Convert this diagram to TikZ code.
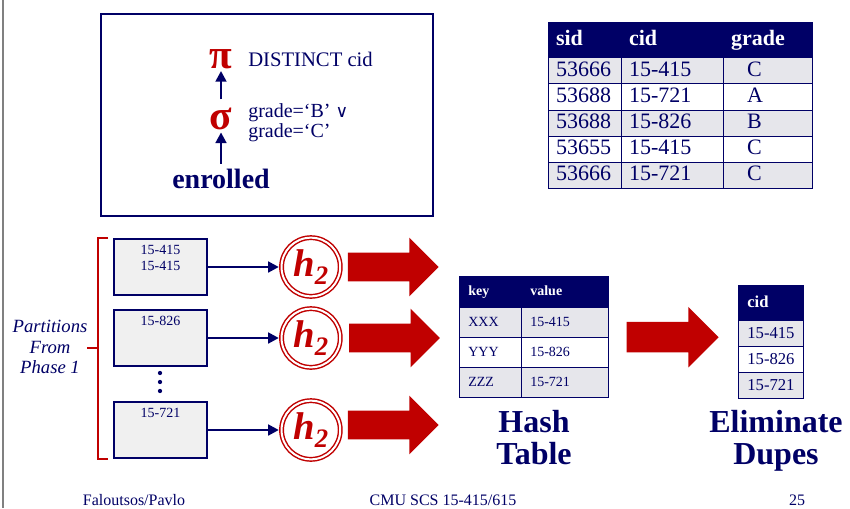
\documentclass[tikz,border=0pt]{standalone}
\usepackage{fontspec}
\setmainfont{Liberation Serif}
\newfontfamily\orfont{DejaVu Sans}
\usetikzlibrary{arrows.meta,positioning,matrix,shapes.arrows}
\definecolor{slnavy}{HTML}{000066}
\definecolor{slred}{HTML}{C00000}
\definecolor{slgrey}{HTML}{E6E6EB}
\definecolor{slbox}{HTML}{F0F0F0}
\newcommand{\fsz}[1]{\fontsize{#1}{#1}\selectfont}
\newcommand{\htwo}{\bfseries\itshape h\raisebox{-6pt}{\fsz{20}2}}
\tikzset{
  navyarrow/.style={draw=slnavy, line width=1.9pt, -{Triangle[length=8pt,width=8pt]}},
  opsym/.style={text=slred, font=\fsz{31}\bfseries, inner sep=0pt},
  partbox/.style={draw=slnavy, line width=1.5pt, fill=slbox, minimum width=70pt, minimum height=42pt, inner sep=0pt},
  partlabel/.style={anchor=north, yshift=-5pt, inner sep=0pt, align=center, font=\fsz{10.5}, text=slnavy},
  hashcirc/.style={circle, draw=slred, line width=1.1pt, double=white, double distance=1.5pt,
    minimum size=44pt, inner sep=0pt, text=slred, font=\fsz{29}},
  bigarrow/.style={single arrow, fill=slred, anchor=tail, inner sep=0pt, inner ysep=10.5pt,
    text height=0pt, text depth=0pt, single arrow head extend=11.25pt, minimum height=68pt},
  tbl/.style={matrix of nodes, inner sep=0pt, row sep=-0.6pt, column sep=-0.6pt, anchor=north west,
    nodes={draw=slnavy, line width=0.6pt, text=slnavy, align=left, inner ysep=0pt,
      execute at begin node=\ignorespaces}},
  headrow/.style={nodes={fill=slnavy, text=white, execute at begin node=\bfseries\ignorespaces}},
  greyrow/.style={nodes={fill=slgrey}},
  bigcap/.style={align=center, anchor=north, inner sep=0pt, font=\fsz{24}\bfseries, text=slnavy},
  footer/.style={anchor=base, inner sep=0pt, font=\fsz{12}, text=slnavy},
}

\begin{document}
\begin{tikzpicture}[x=0.75pt, y=-0.75pt, text=slnavy]
\useasboundingbox[fill=white] (0,0) rectangle (850,508);
\draw[gray, line width=0.8pt] (3,0) -- (3,508);

% query plan
\node (plan) [draw=slnavy, line width=1.5pt, minimum width=249pt, minimum height=151.5pt, anchor=north west] at (99.5,12.5) {};
\node (pi) [opsym] at (221,59) {π};
\node (sigma) [opsym] at (221,118.5) {σ};
\node (enr) [anchor=base, font=\fsz{21}\bfseries] at (221,188) {enrolled};
\node (proj) [anchor=base west, inner sep=0pt, font=\fsz{15.5}] at (248,66) {DISTINCT cid};
\node (cond) [anchor=north west, inner sep=0pt, align=left, font=\fsz{15}] at (248,103) {grade=`B' {\orfont\fsz{13}∨}\\grade=`C'};
\draw[navyarrow, shorten <=6pt, shorten >=1.5pt] (sigma) -- (pi);
\draw[navyarrow, shorten >=2pt] (enr) -- (sigma);

% input relation
\matrix (grades) [tbl, at={(548,22)}, font=\fsz{16.5},
  nodes={inner xsep=5.5pt, text height=11.5pt, text depth=3.5pt, minimum height=19.6pt},
  column 1/.style={nodes={text width=43.75pt}},
  column 2/.style={nodes={text width=65.5pt}},
  column 3/.style={nodes={text width=55.75pt}},
  row 1/.style={headrow, nodes={minimum height=26.25pt}},
  row 2/.style=greyrow, row 4/.style=greyrow, row 6/.style=greyrow]{
  sid & cid & grade \\
  53666 & 15-415 & \hspace*{12pt}C \\
  53688 & 15-721 & \hspace*{12pt}A \\
  53688 & 15-826 & \hspace*{12pt}B \\
  53655 & 15-415 & \hspace*{12pt}C \\
  53666 & 15-721 & \hspace*{12pt}C \\
};

% partitions
\node (part1) [partbox] at (160.5,267) {};
\node (part2) [partbox] at (160.5,338) {};
\node (part3) [partbox] at (160.5,430) {};
\node [partlabel] at (part1.north) {15-415\\[1.5pt]15-415};
\node [partlabel] at (part2.north) {15-826};
\node [partlabel] at (part3.north) {15-721};
\foreach \y in {373,382,391}
  \fill[slnavy] (160,\y) circle (1.6pt);

\node (phase) [align=center, font=\fsz{14}\itshape] at (50,347) {Partitions\\[1.4pt]From\\[1.4pt]Phase 1};
\draw[slred, line width=1.5pt] (108,238) -- (98,238) -- (98,459) -- (108,459);
\draw[slred, line width=1.5pt] (87,348) -- (98,348);

\node (h1) [hashcirc, right=54.5pt of part1] {\htwo};
\node (h2) [hashcirc, right=54.5pt of part2] {\htwo};
\node (h3) [hashcirc, right=54.5pt of part3] {\htwo};
\draw[navyarrow, shorten >=1.5pt] (part1) -- (h1);
\draw[navyarrow, shorten >=1.5pt] (part2) -- (h2);
\draw[navyarrow, shorten >=1.5pt] (part3) -- (h3);

\node (out1) [bigarrow] at ([xshift=5pt]h1.east) {};
\node (out2) [bigarrow] at ([xshift=6pt]h2.east) {};
\node (out3) [bigarrow] at ([xshift=5pt,yshift=3.75pt]h3.east) {};

% hash table
\matrix (hashtbl) [tbl, at={(459,276)}, font=\fsz{10.5},
  nodes={inner xsep=6.5pt, text height=7.5pt, text depth=2pt, minimum height=22.5pt},
  column 1/.style={nodes={text width=33.5pt}},
  column 2/.style={nodes={text width=52.25pt}},
  row 1/.style={headrow, nodes={minimum height=23.25pt}},
  row 2/.style=greyrow, row 4/.style=greyrow]{
  key & value \\
  XXX & 15-415 \\
  YYY & 15-826 \\
  ZZZ & 15-721 \\
};
\node (hashcap) [bigcap] at (534,410) {Hash\\Table};

\node (dedup) [bigarrow, inner ysep=11.25pt, minimum height=69pt] at ([xshift=12.75pt]hashtbl.east) {};

% output
\matrix (dupes) [tbl, at={(738,285)}, font=\fsz{12.5},
  nodes={inner xsep=6.5pt, text height=9pt, text depth=2.5pt, minimum height=19.5pt, text width=35.75pt},
  row 1/.style={headrow, nodes={minimum height=26.25pt}},
  row 2/.style=greyrow, row 4/.style=greyrow]{
  cid \\
  15-415 \\
  15-826 \\
  15-721 \\
};
\node (dupecap) [bigcap] at (776,410) {Eliminate\\Dupes};

% footer
\node (auth) [footer] at (134,505) {Faloutsos/Pavlo};
\node (course) [footer] at (443,505) {CMU SCS 15-415/615};
\node (page) [footer] at (797,505) {25};
\end{tikzpicture}
\end{document}
